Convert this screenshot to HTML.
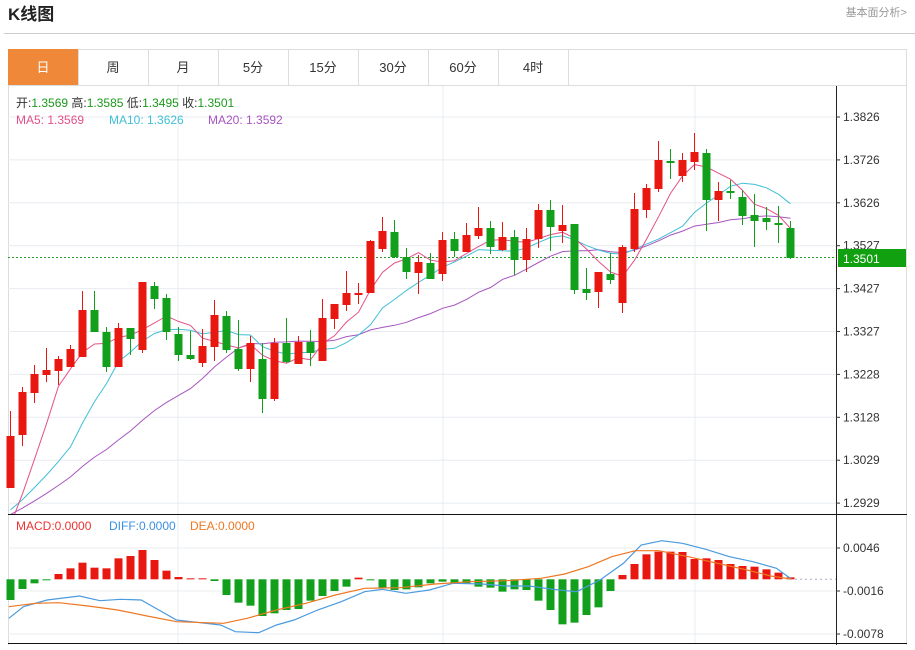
<!DOCTYPE html>
<html><head><meta charset="utf-8"><style>
body{margin:0;background:#fff;width:915px;height:645px;overflow:hidden;font-family:"Liberation Sans","Noto Sans CJK SC",sans-serif;}
svg text{font-family:"Liberation Sans","Noto Sans CJK SC",sans-serif;}
</style></head><body>
<svg id="s" width="915" height="645" xmlns="http://www.w3.org/2000/svg">
<text x="8" y="20" font-size="17" font-weight="bold" fill="#222">K线图</text>
<text x="907" y="16" font-size="11" fill="#999" text-anchor="end">基本面分析&gt;</text>
<line x1="4" y1="33.5" x2="915" y2="33.5" stroke="#ccc"/>
<rect x="8.5" y="49.5" width="898" height="36" fill="#fff" stroke="#ddd"/>
<rect x="8" y="49" width="70" height="36" fill="#f0883a"/>
<g font-size="13" text-anchor="middle" fill="#333">
<text x="43" y="72" fill="#fff">日</text><text x="113" y="72">周</text><text x="183" y="72">月</text><text x="253" y="72">5分</text><text x="323" y="72">15分</text><text x="393" y="72">30分</text><text x="463" y="72">60分</text><text x="533" y="72">4时</text>
</g>
<g stroke="#ddd"><line x1="148.5" y1="49" x2="148.5" y2="85"/><line x1="218.5" y1="49" x2="218.5" y2="85"/><line x1="288.5" y1="49" x2="288.5" y2="85"/><line x1="358.5" y1="49" x2="358.5" y2="85"/><line x1="428.5" y1="49" x2="428.5" y2="85"/><line x1="498.5" y1="49" x2="498.5" y2="85"/><line x1="568.5" y1="49" x2="568.5" y2="85"/><line x1="78.5" y1="49" x2="78.5" y2="85"/></g>
<line x1="8.5" y1="85" x2="8.5" y2="645" stroke="#ddd"/>
<line x1="906.5" y1="85" x2="906.5" y2="645" stroke="#ddd"/>
<g id="grid" stroke="#e8ecf0"></g>
<g id="main"></g>
<g font-size="12">
<text x="16" y="107" fill="#333">开:<tspan fill="#1a9a1a">1.3569</tspan>  高:<tspan fill="#1a9a1a">1.3585</tspan>  低:<tspan fill="#1a9a1a">1.3495</tspan>  收:<tspan fill="#1a9a1a">1.3501</tspan></text>
<text x="16" y="124" fill="#e4508a">MA5: 1.3569</text>
<text x="109" y="124" fill="#3fbfd6">MA10: 1.3626</text>
<text x="208" y="124" fill="#a855c0">MA20: 1.3592</text>
<text x="16" y="530" fill="#e33">MACD:0.0000</text>
<text x="109" y="530" fill="#3b8fe0">DIFF:0.0000</text>
<text x="190" y="530" fill="#ee7722">DEA:0.0000</text>
</g>
<line x1="8" y1="514.5" x2="907" y2="514.5" stroke="#111"/>
<line x1="8" y1="643.5" x2="907" y2="643.5" stroke="#111"/>
<line x1="836.5" y1="86" x2="836.5" y2="645" stroke="#222"/>
</svg>
<script>
const NS="http://www.w3.org/2000/svg",S=document.getElementById('s'),M=document.getElementById('main'),G=document.getElementById('grid');
function el(p,t,a){const e=document.createElementNS(NS,t);for(const k in a)e.setAttribute(k,a[k]);p.appendChild(e);return e;}
// grid
const ticks=["1.3826","1.3726","1.3626","1.3527","1.3427","1.3327","1.3228","1.3128","1.3029","1.2929"];
ticks.forEach((t,k)=>{const y=117+k*42.9;el(G,'line',{x1:8,x2:836,y1:y,y2:y});el(S,'line',{x1:836,x2:840,y1:y,y2:y,stroke:'#333'});
 const tx=el(S,'text',{x:843,y:y+4,'font-size':12,fill:'#333'});tx.textContent=t;});
[178,443,695].forEach(x=>{el(G,'line',{x1:x,x2:x,y1:86,y2:643});});
[548,591,634].forEach((y,k)=>{el(G,'line',{x1:8,x2:836,y1:y,y2:y});el(S,'line',{x1:836,x2:840,y1:y,y2:y,stroke:'#333'});
 const tx=el(S,'text',{x:843,y:y+4,'font-size':12,fill:'#333'});tx.textContent=["0.0046","-0.0016","-0.0078"][k];});
// candles: [top,bottom,high,low,red?]
const C=[[436,488,411,488,1],[392,435,387,446,1],[374,393,365,403,1],[370,375,348,382,1],[359,371,356,385,1],[349,367,345,367,1],[310,357,291,357,1],[310,332,291,332,0],[332,367,327,372,0],[328,367,323,367,1],[328,339,328,355,0],[282,350,282,353,1],[286,299,282,309,0],[298,332,294,340,0],[334,355,327,361,0],[355,359,331,360,0],[346,363,329,367,1],[315,347,300,361,1],[316,350,311,353,0],[349,369,320,371,0],[343,369,336,382,1],[359,399,343,413,0],[343,399,338,401,1],[343,362,318,363,0],[342,364,336,364,1],[342,353,330,366,0],[318,361,299,361,1],[304,319,304,329,1],[293,305,271,311,1],[293,295,283,304,1],[241,293,240,293,1],[231,249,217,252,1],[232,257,220,258,0],[257,272,248,279,0],[262,273,255,294,1],[263,279,253,279,0],[240,274,232,281,1],[239,251,232,257,0],[235,252,223,252,1],[228,236,207,239,1],[228,247,221,254,0],[237,250,222,251,1],[237,260,230,275,0],[239,260,228,272,1],[210,239,204,248,1],[210,227,200,251,0],[225,231,205,243,1],[224,290,224,294,0],[289,293,268,300,0],[272,292,272,308,1],[274,280,253,284,0],[247,303,245,313,1],[209,249,193,252,1],[188,210,184,218,1],[160,189,141,192,1],[161,163,149,179,0],[160,176,153,182,1],[152,162,133,170,1],[153,200,149,231,0],[191,200,182,221,1],[191,193,180,199,0],[197,216,190,225,0],[215,221,194,247,0],[218,222,207,230,0],[223,225,206,243,0],[228,258,221,259,0]];
const X=i=>10.5+12*i;
// dotted price line
el(M,'line',{x1:8,x2:836,y1:257.5,y2:257.5,stroke:'#2a9a2a','stroke-dasharray':'2,2'});
el(S,'rect',{x:838,y:249,width:68,height:18,fill:'#10a010'});
const pt=el(S,'text',{x:843,y:263,'font-size':12,fill:'#fff'});pt.textContent="1.3501";
// MAs
const closes=C.map(c=>c[4]?c[0]:c[1]);
const pre=[];for(let k=0;k<19;k++){pre.push(k<10?519:(k<15?495:547));}
const all=pre.concat(closes);
function ma(n,col){let pts=[];for(let i=0;i<C.length;i++){let s=0;for(let j=0;j<n;j++)s+=all[19+i-j];pts.push(X(i)+','+(s/n).toFixed(1));}
 el(M,'polyline',{points:pts.join(' '),fill:'none',stroke:col,'stroke-width':1,'clip-path':'url(#cp)'});}
const d=el(S,'defs',{});const cp=el(d,'clipPath',{id:'cp'});el(cp,'rect',{x:8,y:86,width:828,height:428});
ma(20,'#a855c0');ma(10,'#3fbfd6');ma(5,'#e4508a');
C.forEach((c,i)=>{const x=X(i),col=c[4]?'#e8170f':'#12a01c';
 el(M,'line',{x1:x,x2:x,y1:c[2],y2:c[3],stroke:col});
 el(M,'rect',{x:x-4,y:c[0],width:8,height:Math.max(1.5,c[1]-c[0]),fill:col});});
// MACD
const H=[270,237,220,210,192,175,158,173,175,145,138,120,150,182,201,205,205,213,255,278,287,318,310,300,297,272,258,243,230,203,211,235,240,238,232,220,215,220,220,230,233,245,238,240,272,300,343,338,315,292,243,195,162,133,125,125,126,147,145,150,162,168,170,178,188,202];
const z=579.3;
H.forEach((h,i)=>{const y=510+h/3,col=y<z?'#e8170f':'#12a01c';el(S,'rect',{x:X(i)-4,y:Math.min(y,z),width:8,height:Math.max(1,Math.abs(y-z)),fill:col});});
el(S,'line',{x1:790,x2:836,y1:z,y2:z,stroke:'#aac','stroke-dasharray':'2,3'});
function ln(p,col){el(S,'polyline',{points:p.map(a=>(a[0]/1.7).toFixed(1)+','+(510+a[1]/3).toFixed(1)).join(' '),fill:'none',stroke:col,'stroke-width':1.2});}
ln([[15,325],[40,290],[80,270],[135,258],[170,272],[205,268],[240,270],[270,300],[300,330],[340,338],[375,345],[400,365],[440,368],[470,345],[500,330],[540,300],[580,275],[620,245],[650,238],[690,250],[730,240],[770,220],[820,222],[860,228],[900,228],[940,238],[980,245],[1020,210],[1060,160],[1090,105],[1125,92],[1160,100],[1200,118],[1240,140],[1280,155],[1320,175],[1345,207]],'#4a9ae0');
ln([[15,290],[60,280],[100,278],[150,288],[200,300],[250,318],[300,335],[380,340],[420,325],[470,300],[520,280],[570,255],[620,235],[680,233],[740,222],[800,215],[860,212],[920,205],[960,192],[1000,170],[1040,140],[1080,122],[1120,122],[1170,140],[1220,160],[1270,180],[1310,198],[1345,207]],'#ee7722');
</script>
</body></html>
